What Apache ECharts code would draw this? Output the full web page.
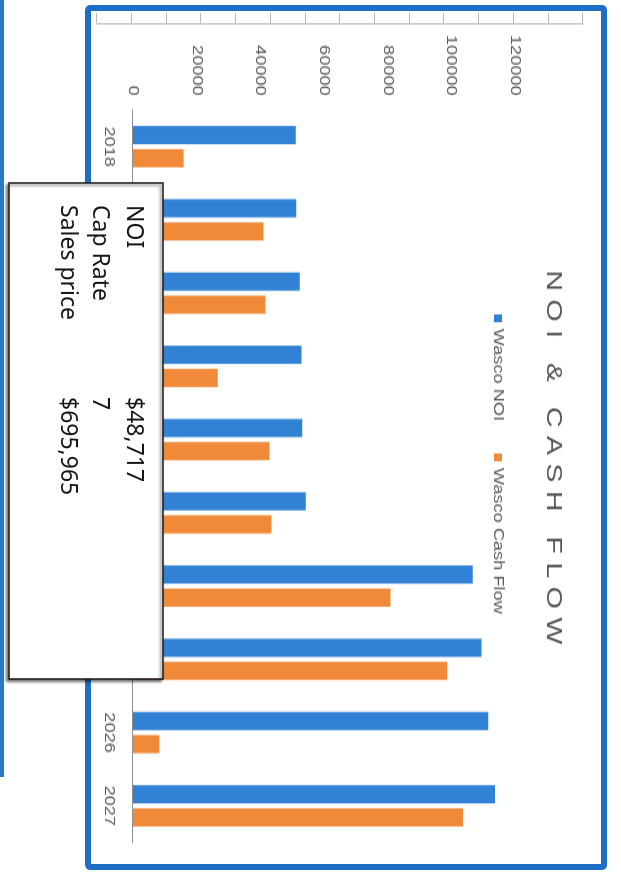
<!DOCTYPE html>
<html><head><meta charset="utf-8">
<script src="https://cdn.jsdelivr.net/npm/echarts@6/dist/echarts.min.js"></script>
<style>
html,body{margin:0;padding:0;background:#fff;width:621px;height:878px;overflow:hidden}
#rot{position:absolute;left:0;top:0;width:878px;height:621px;transform-origin:0 0;transform:translate(621px,0) rotate(90deg);}
#edge{position:absolute;left:0;top:617px;width:777px;height:4px;background:#2a78c8}
#chartWrap{position:absolute;left:5px;top:14px;width:665.4px;height:522px;transform-origin:0 0;transform:scale(1.3,1);background:#fff}
#chart{position:absolute;left:0;top:0;width:665.4px;height:522px}
#title{position:absolute;left:48px;top:42px;width:600px;text-align:center;padding-left:6.5px;box-sizing:border-box;font-family:"Liberation Sans",Arial,sans-serif;font-size:22px;line-height:22px;letter-spacing:6.5px;color:#555555;white-space:nowrap}
#frame{position:absolute;left:5px;top:14px;width:865px;height:522px;box-sizing:border-box;border:6px solid #1c6fc4;border-radius:5px;pointer-events:none}
#box{position:absolute;left:0;top:0;width:878px;height:621px;pointer-events:none}
</style>
</head><body>
<div id="rot">
  <div id="edge"></div>
  <div id="chartWrap"><div id="chart"></div><div id="title">NOI &amp; CASH FLOW</div></div>
  <div id="frame"></div>
  <div id="box"></div>
</div>
<script>
const years = ['2018','2019','2020','2021','2022','2023','2024','2025','2026','2027'];
const noiValues = [51100, 51300, 52400, 52900, 53200, 54300, 106700, 109500, 111600, 113700];
const cashFlowValues = [15900, 41000, 41600, 26600, 42900, 43500, 80900, 98700, 8300, 103700];
const valueTicks = [0, 20000, 40000, 60000, 80000, 100000, 120000];
const boxLabels = ['NOI', 'Cap Rate', 'Sales price'];
const boxValues = ['$48,717', '7', '$695,965'];

const chart = echarts.init(document.getElementById('chart'), null, {renderer: 'canvas'});
const labelColor = '#595959';
chart.setOption({
  animation: false,
  backgroundColor: '#ffffff',
  textStyle: {fontFamily: '"Liberation Sans", Arial, sans-serif'},
  legend: {
    data: ['Wasco NOI', 'Wasco Cash Flow'],
    left: 233, top: 97,
    itemWidth: 6, itemHeight: 8, itemGap: 25,
    icon: 'rect',
    textStyle: {fontSize: 14, color: labelColor, fontFamily: '"Liberation Sans", Arial, sans-serif'}
  },
  grid: [
    {left: 80.8, right: 20.8, top: 92, bottom: 48},
    {left: 13.8, width: 1, top: 24, bottom: 12}
  ],
  xAxis: [
    {type: 'category', data: years, gridIndex: 0,
     axisLine: {show: true, lineStyle: {color: '#8f8f8f', width: 1}},
     axisTick: {show: false},
     axisLabel: {fontSize: 14, color: labelColor, margin: 17}},
    {type: 'value', gridIndex: 1, show: false}
  ],
  yAxis: [
    {type: 'value', gridIndex: 0, min: valueTicks[0], max: valueTicks[valueTicks.length - 1],
     interval: valueTicks[1] - valueTicks[0],
     axisLine: {show: false}, axisTick: {show: false}, splitLine: {show: false},
     axisLabel: {fontSize: 14, color: labelColor, margin: 11, formatter: v => String(v)}},
    {type: 'value', gridIndex: 1, min: 0, max: 14, interval: 1,
     axisLine: {show: true, lineStyle: {color: '#b8b8b8'}},
     axisTick: {show: true, length: 7.7, lineStyle: {color: '#b8b8b8'}},
     axisLabel: {show: false}, splitLine: {show: false}}
  ],
  series: [
    {name: 'Wasco NOI', type: 'bar', xAxisIndex: 0, yAxisIndex: 0, data: noiValues,
     barWidth: 14, barGap: '27%', itemStyle: {color: '#3182d4'}},
    {name: 'Wasco Cash Flow', type: 'bar', xAxisIndex: 0, yAxisIndex: 0, data: cashFlowValues,
     barWidth: 14, barGap: '27%', itemStyle: {color: '#f08a3a'}}
  ]
});

const box = echarts.init(document.getElementById('box'), null, {renderer: 'canvas'});
const rowY = [487, 521, 553];
const boxFont = '"Noto Sans", "Open Sans", sans-serif';
const elements = [{
  type: 'rect', shape: {x: 183, y: 458, width: 496, height: 154},
  style: {fill: '#ffffff', stroke: '#1a1a1a', lineWidth: 1.5,
          shadowColor: 'rgba(0,0,0,0.55)', shadowBlur: 3, shadowOffsetX: 2, shadowOffsetY: 2}
}];
boxLabels.forEach((t, i) => {
  elements.push({type: 'text', x: 205, y: rowY[i], style: {text: t, font: '23px ' + boxFont, fill: '#161616', textVerticalAlign: 'middle', verticalAlign: 'middle'}});
  elements.push({type: 'text', x: 397, y: rowY[i], style: {text: boxValues[i], font: '23px ' + boxFont, fill: '#161616', textVerticalAlign: 'middle', verticalAlign: 'middle'}});
});
box.setOption({animation: false, graphic: {elements: elements}});
</script>
</body></html>
